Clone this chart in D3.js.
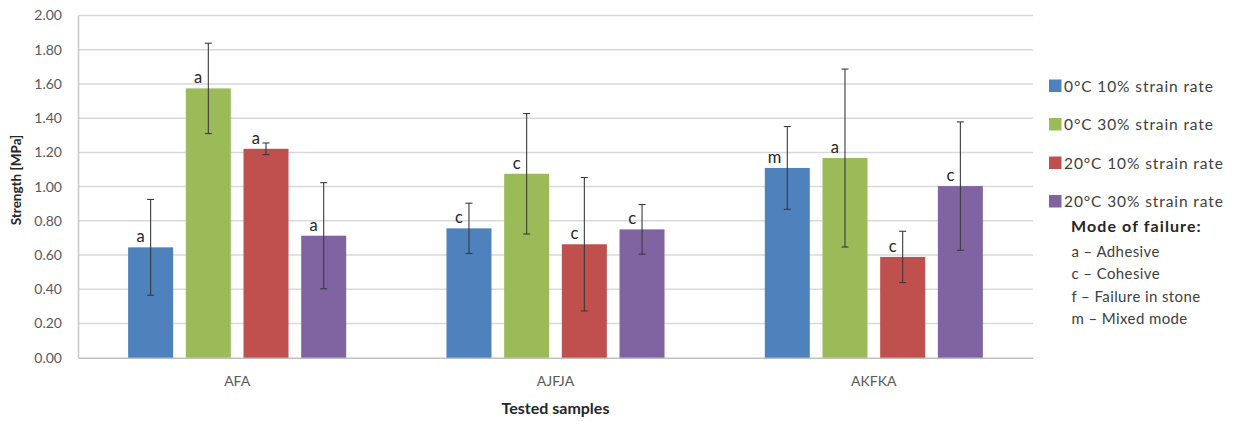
<!DOCTYPE html>
<html>
<head>
<meta charset="utf-8">
<script src="https://cdn.jsdelivr.net/npm/d3@7"></script>
<style>
  html, body { margin: 0; padding: 0; background: #fff; }
  svg { display: block; font-family: Lato, "Open Sans", sans-serif; }
</style>
</head>
<body>
<svg id="chart" width="1243" height="421"></svg>
<script>
// Sample groups and test conditions
const categories = ["AFA", "AJFJA", "AKFKA"];
const seriesNames = ["0°C 10% strain rate", "0°C 30% strain rate", "20°C 10% strain rate", "20°C 30% strain rate"];

// Mean strength [MPa] per condition, one value per sample group
const cold10 = [0.645, 0.756, 1.109];
const cold30 = [1.574, 1.075, 1.167];
const warm10 = [1.221, 0.663, 0.589];
const warm30 = [0.713, 0.750, 1.003];

// Standard deviations (error bars)
const cold10Err = [0.280, 0.147, 0.242];
const cold30Err = [0.264, 0.352, 0.520];
const warm10Err = [0.034, 0.390, 0.150];
const warm30Err = [0.310, 0.145, 0.375];

// Mode of failure letters
const cold10Mode = ["a", "c", "m"];
const cold30Mode = ["a", "c", "a"];
const warm10Mode = ["a", "c", "c"];
const warm30Mode = ["a", "c", "c"];

const yTicks = [0, 0.2, 0.4, 0.6, 0.8, 1.0, 1.2, 1.4, 1.6, 1.8, 2.0];
const failureModes = ["a – Adhesive", "c – Cohesive", "f – Failure in stone", "m – Mixed mode"];

const colors = ["#4f81bd", "#9bbb59", "#c0504d", "#8064a2"];

const seriesData = [
  { name: seriesNames[0], values: cold10, errs: cold10Err, modes: cold10Mode },
  { name: seriesNames[1], values: cold30, errs: cold30Err, modes: cold30Mode },
  { name: seriesNames[2], values: warm10, errs: warm10Err, modes: warm10Mode },
  { name: seriesNames[3], values: warm30, errs: warm30Err, modes: warm30Mode }
];

const svg = d3.select("#chart");
const plot = { left: 78, right: 1033, top: 15.5, bottom: 357.7 };

const x0 = d3.scaleBand().domain(categories).range([plot.left, plot.right]).paddingInner(0).paddingOuter(0);
const groupW = x0.bandwidth() * 0.685;
const x1 = d3.scaleBand().domain(seriesNames).range([0, groupW]).paddingInner(0.22).paddingOuter(0);
const groupOffset = (x0.bandwidth() - groupW) / 2;
const y = d3.scaleLinear().domain([0, 2]).range([plot.bottom, plot.top]);

// Horizontal gridlines
svg.append("g")
  .selectAll("line")
  .data(yTicks.filter(d => d > 0))
  .join("line")
  .attr("x1", plot.left).attr("x2", plot.right)
  .attr("y1", d => y(d)).attr("y2", d => y(d))
  .attr("stroke", "#d9d9d9").attr("stroke-width", 1.5);

// Y axis
const yAxis = d3.axisLeft(y).tickValues(yTicks).tickFormat(d3.format(".2f")).tickSize(0).tickPadding(16);
const gy = svg.append("g").attr("transform", `translate(${plot.left},0)`).call(yAxis);
gy.select(".domain").attr("stroke", "#c8c8c8").attr("stroke-width", 1.5);
gy.selectAll("text").attr("fill", "#595959").style("font-size", "14px").style("font-family", "Lato, sans-serif");

// X axis
const xAxis = d3.axisBottom(x0).tickSize(0).tickPadding(18);
const gx = svg.append("g").attr("transform", `translate(0,${plot.bottom})`).call(xAxis);
gx.select(".domain").attr("stroke", "#c0c0c0").attr("stroke-width", 1.5);
gx.selectAll("text").attr("fill", "#595959").style("font-size", "14px").style("font-family", "Lato, sans-serif");

// Bars
const groups = svg.append("g")
  .selectAll("g")
  .data(seriesData)
  .join("g")
  .attr("fill", (d, i) => colors[i]);

const cells = d => categories.map((c, j) => ({
  cat: c, series: d.name, v: d.values[j], e: d.errs[j], m: d.modes[j]
}));

groups.selectAll("rect")
  .data(cells)
  .join("rect")
  .attr("x", d => x0(d.cat) + groupOffset + x1(d.series))
  .attr("y", d => y(d.v))
  .attr("width", x1.bandwidth())
  .attr("height", d => y(0) - y(d.v));

// Error bars
const cap = 3.5;
const eb = svg.append("g").attr("stroke", "#3a3a3a").attr("stroke-width", 1.1).attr("fill", "none");
seriesData.forEach(s => {
  cells(s).forEach(d => {
    const cx = x0(d.cat) + groupOffset + x1(d.series) + x1.bandwidth() / 2;
    const yt = y(d.v + d.e), yb = y(d.v - d.e);
    eb.append("line").attr("x1", cx).attr("x2", cx).attr("y1", yt).attr("y2", yb);
    eb.append("line").attr("x1", cx - cap).attr("x2", cx + cap).attr("y1", yt).attr("y2", yt);
    eb.append("line").attr("x1", cx - cap).attr("x2", cx + cap).attr("y1", yb).attr("y2", yb);
  });
});

// Failure mode letters above bars
const lbl = svg.append("g").attr("fill", "#262626").style("font-size", "16.5px").attr("text-anchor", "end");
seriesData.forEach(s => {
  cells(s).forEach(d => {
    const cx = x0(d.cat) + groupOffset + x1(d.series) + x1.bandwidth() / 2;
    lbl.append("text").attr("x", cx - 6).attr("y", y(d.v) - 5).text(d.m);
  });
});

// Axis titles
svg.append("text")
  .attr("transform", `translate(21,180) rotate(-90)`)
  .attr("text-anchor", "middle")
  .attr("fill", "#262626")
  .style("font-size", "13.5px").style("font-weight", "bold")
  .text("Strength [MPa]");

svg.append("text")
  .attr("x", (plot.left + plot.right) / 2).attr("y", 414)
  .attr("text-anchor", "middle")
  .attr("fill", "#262626")
  .style("font-size", "16px").style("font-weight", "bold")
  .text("Tested samples");

// Legend
const legend = svg.append("g");
const legendRows = [86, 124.5, 163, 201.5];
seriesData.forEach((s, i) => {
  legend.append("rect").attr("x", 1049).attr("y", legendRows[i] - 6.5).attr("width", 12.5).attr("height", 12.5).attr("fill", colors[i]);
  legend.append("text").attr("x", 1064).attr("y", legendRows[i] + 5.5)
    .attr("fill", "#404040").style("font-size", "15.5px").style("letter-spacing", "0.9px").text(s.name);
});

legend.append("text").attr("x", 1071).attr("y", 232)
  .attr("fill", "#262626").style("font-size", "16px").style("font-weight", "bold").style("letter-spacing", "1.1px")
  .text("Mode of failure:");
failureModes.forEach((t, i) => {
  legend.append("text").attr("x", 1071.5).attr("y", 256.5 + i * 22.5)
    .attr("fill", "#404040").style("font-size", "15px").style("letter-spacing", "0.4px").text(t);
});
</script>
</body>
</html>
